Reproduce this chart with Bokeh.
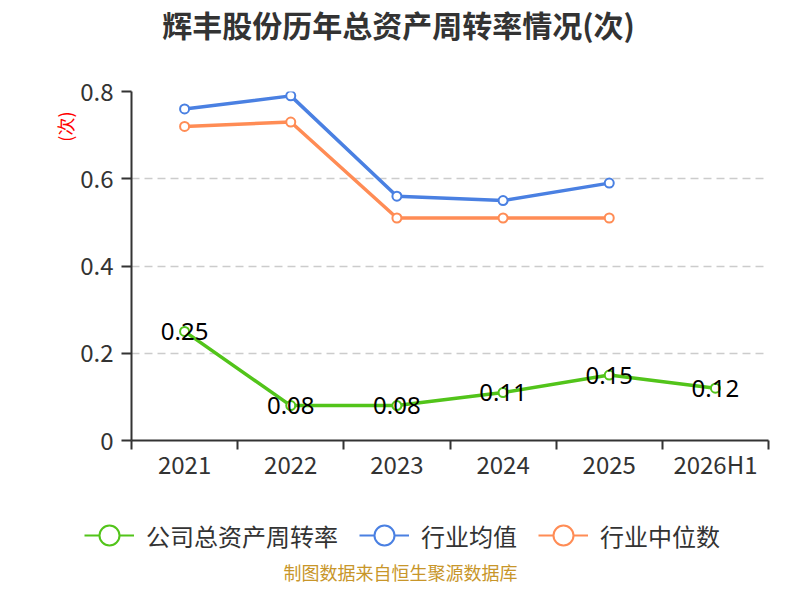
from bokeh.plotting import figure
from bokeh.layouts import column
from bokeh.models import (ColumnDataSource, Range1d, FixedTicker, Legend, LegendItem,
                          Label, Title)
from bokeh.core.properties import value
from bokeh.embed import file_html
from bokeh.resources import INLINE

categories = ["2021", "2022", "2023", "2024", "2025", "2026H1"]
company = [0.25, 0.08, 0.08, 0.11, 0.15, 0.12]
industry_avg = [0.76, 0.79, 0.56, 0.55, 0.59]
industry_median = [0.72, 0.73, 0.51, 0.51, 0.51]
y_ticks = [0, 0.2, 0.4, 0.6, 0.8]
y_tick_labels = ["0", "0.2", "0.4", "0.6", "0.8"]

TITLE = "辉丰股份历年总资产周转率情况(次)"
UNIT = "(次)"
SOURCE = "制图数据来自恒生聚源数据库"
SERIES_NAMES = ["公司总资产周转率", "行业均值", "行业中位数"]

GREEN = "#52c41a"
BLUE = "#4a80e2"
ORANGE = "#ff8c55"
FONT = "Noto Sans CJK SC"

W = 784
FRAME_LEFT = 131

xc = [i + 0.5 for i in range(len(categories))]


def blank(height):
    fig = figure(width=W, height=height, output_backend="svg", toolbar_location=None,
                 x_range=Range1d(0, 1), y_range=Range1d(-2, -1),
                 x_axis_type=None, y_axis_type=None,
                 min_border_left=0, min_border_right=0, min_border_top=0,
                 min_border_bottom=0)
    fig.outline_line_color = None
    fig.xgrid.grid_line_color = None
    fig.ygrid.grid_line_color = None
    unaligned = False
    try:
        fig.frame_align = False
        unaligned = True
    except Exception:
        unaligned = False
    return fig, (0 if unaligned else FRAME_LEFT)


# ---------------- header: title ----------------
HH = 71
h, h_shift = blank(HH)
h.add_layout(Label(x=398 - h_shift, y=HH - 23, x_units="screen", y_units="screen",
                   text=TITLE, text_color="#333333", text_font=FONT,
                   text_font_size="30px", text_font_style="bold",
                   text_align="center", text_baseline="middle"))

# ---------------- main chart ----------------
p = figure(width=W, height=423, output_backend="svg", toolbar_location=None,
           x_range=Range1d(0, len(categories)), y_range=Range1d(0, 0.8),
           min_border_left=FRAME_LEFT, min_border_right=16, min_border_top=20,
           min_border_bottom=54)
p.outline_line_color = None

unit_title = Title(text=UNIT, align="right", offset=20, text_color="red",
                   text_font=FONT, text_font_size="18px", text_font_style="normal",
                   standoff=0)
p.add_layout(unit_title, "left")

p.xaxis.ticker = FixedTicker(ticks=xc, minor_ticks=list(range(len(categories) + 1)))
p.xaxis.major_label_overrides = {x: c for x, c in zip(xc, categories)}
p.xaxis.major_tick_line_color = None
p.xaxis.major_tick_out = 0
p.xaxis.major_tick_in = 0
p.xaxis.minor_tick_line_color = "#333333"
p.xaxis.minor_tick_out = 9
p.xaxis.minor_tick_in = 0
p.xaxis.minor_tick_line_width = 2
p.xaxis.axis_line_color = "#333333"
p.xaxis.axis_line_width = 2
p.xaxis.major_label_text_font = FONT
p.xaxis.major_label_text_font_size = "24px"
p.xaxis.major_label_text_color = "#333333"
p.xaxis.major_label_standoff = -4

p.yaxis.ticker = FixedTicker(ticks=y_ticks)
p.yaxis.major_label_overrides = {t: l for t, l in zip(y_ticks, y_tick_labels)}
p.yaxis.minor_tick_line_color = None
p.yaxis.major_tick_out = 10
p.yaxis.major_tick_in = 0
p.yaxis.major_tick_line_width = 2
p.yaxis.major_tick_line_color = "#333333"
p.yaxis.axis_line_color = "#333333"
p.yaxis.axis_line_width = 2
p.yaxis.major_label_text_font = FONT
p.yaxis.major_label_text_font_size = "24px"
p.yaxis.major_label_text_color = "#333333"
p.yaxis.major_label_standoff = 8

p.xgrid.grid_line_color = None
p.ygrid.grid_line_color = "#cccccc"
p.ygrid.grid_line_dash = "8 5"
p.ygrid.grid_line_width = 1.5

src_c = ColumnDataSource(dict(x=xc, y=company, t=[f"{v:.2f}" for v in company]))
src_a = ColumnDataSource(dict(x=xc[:len(industry_avg)], y=industry_avg))
src_m = ColumnDataSource(dict(x=xc[:len(industry_median)], y=industry_median))

for src, col in [(src_m, ORANGE), (src_a, BLUE), (src_c, GREEN)]:
    p.line("x", "y", source=src, line_color=col, line_width=3.5)
    p.scatter("x", "y", source=src, marker="circle", size=9, fill_color="white",
              line_color=col, line_width=2)

p.text("x", "y", text="t", source=src_c, text_align="center", text_baseline="middle",
       text_font=value("Noto Sans"), text_font_size="24px", text_color="black")

# ---------------- footer: legend + source ----------------
FH = 90
f, f_shift = blank(FH)

items = []
for name, col, src in zip(SERIES_NAMES, [GREEN, BLUE, ORANGE], [src_c, src_a, src_m]):
    # same series data; the footer's y range keeps them out of view, only the legend shows
    fsrc = ColumnDataSource(dict(x=list(src.data["x"]), y=list(src.data["y"])))
    r1 = f.line("x", "y", source=fsrc, line_color=col, line_width=2)
    r2 = f.scatter("x", "y", source=fsrc, marker="circle", size=20, fill_color="white",
                   line_color=col, line_width=2)
    items.append(LegendItem(label=name, renderers=[r1, r2]))

legend = Legend(items=items, orientation="horizontal", location=(84 - f_shift, 24),
                label_text_font=FONT, label_text_font_size="24px",
                label_text_color="#333333", glyph_width=50, glyph_height=50,
                label_height=24, spacing=21, label_standoff=12, border_line_color=None,
                background_fill_alpha=0, margin=0, padding=0)
f.add_layout(legend)

f.add_layout(Label(x=400 - f_shift, y=13, x_units="screen", y_units="screen", text=SOURCE,
                   text_color="#c8962a", text_font=FONT, text_font_size="18px",
                   text_align="center", text_baseline="middle"))

open("out.html", "w").write(file_html(column(h, p, f, spacing=0), INLINE))
